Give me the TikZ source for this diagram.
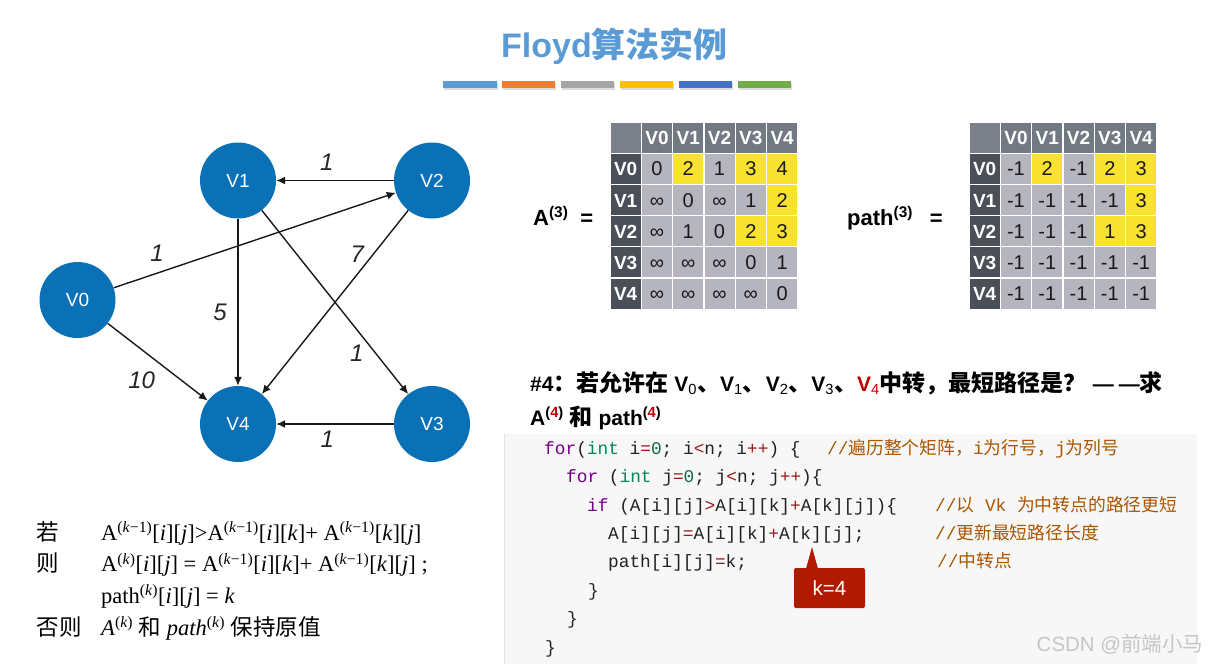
\documentclass[tikz,border=0pt]{standalone}
\usepackage{fontspec}
\setmainfont{Liberation Sans}
\newfontfamily\cjk{Noto Sans CJK SC}
\newfontfamily\codett{Liberation Mono}
\newfontfamily\timesrm{Liberation Serif}
\usetikzlibrary{arrows.meta, calc}
\definecolor{titleblue}{HTML}{5B9BD5}
\definecolor{barA}{HTML}{5B9BD5}
\definecolor{barB}{HTML}{ED7D31}
\definecolor{barC}{HTML}{A5A5A5}
\definecolor{barD}{HTML}{FFC000}
\definecolor{barE}{HTML}{4472C4}
\definecolor{barF}{HTML}{70AD47}
\definecolor{nodeblue}{HTML}{0B71B6}
\definecolor{headcorner}{HTML}{7C8089}
\definecolor{headtop}{HTML}{737983}
\definecolor{headleft}{HTML}{4B4F57}
\definecolor{cellgray}{HTML}{B5B5C0}
\definecolor{hotyellow}{HTML}{F8E12F}
\definecolor{hlred}{HTML}{C00000}
\definecolor{codebg}{HTML}{F7F7F7}
\definecolor{codeedge}{HTML}{E2E2E2}
\definecolor{codekw}{HTML}{770088}
\definecolor{codety}{HTML}{008855}
\definecolor{codenm}{HTML}{116644}
\definecolor{codeop}{HTML}{981A1A}
\definecolor{codecm}{HTML}{AA5500}
\definecolor{codeink}{HTML}{222222}
\definecolor{calloutred}{HTML}{B21A00}
\definecolor{wmgray}{HTML}{C6C6C6}

\newcommand\setfs[1]{\fontsize{#1}{#1}\selectfont}
\newcommand\zh[1]{{\cjk #1}}
\newcommand\qzh[1]{{\cjk\setfs{23}#1}}
\newcommand\kw[1]{\textcolor{codekw}{#1}}
\newcommand\ty[1]{\textcolor{codety}{#1}}
\newcommand\nm[1]{\textcolor{codenm}{#1}}
\newcommand\op[1]{\textcolor{codeop}{#1}}
\newcommand\cm[1]{\textcolor{codecm}{#1}}

\tikzset{
  gnode/.style={circle, fill=nodeblue, minimum size=76pt, inner sep=0, text=white, font=\setfs{19}},
  arc/.style={-{Latex[length=9pt, width=8pt]}, line width=1.4pt, black!90},
  wlabel/.style={inner sep=0, font=\setfs{24}\itshape, text=black!85},
  mcell/.style={draw=white, line width=1.2pt, minimum width=31.3pt, minimum height=31.2pt,
                inner sep=0, text height=14.3pt, text depth=0pt,
                fill=cellgray, text=black!90, font=\setfs{20}},
  colhead/.style={mcell, fill=headtop, text=white, font=\setfs{19}\bfseries},
  rowhead/.style={mcell, fill=headleft, text=white, font=\setfs{19}\bfseries},
  same/.style={},
  upd/.style={fill=hotyellow},
  codeline/.style={anchor=base west, inner sep=0, text=codeink, font=\codett\setfs{17.8}},
  formula/.style={anchor=base west, inner sep=0, text=black, font=\timesrm\setfs{22.5}},
  kbox/.style={fill=calloutred, text=white, minimum width=71pt, minimum height=40pt,
               rounded corners=2pt, inner sep=0, font=\setfs{20.5}},
}

\begin{document}
\begin{tikzpicture}[x=1pt, y=-1pt]
\useasboundingbox (0,0) rectangle (1223,664);

% ---- title and colour strip
\node[anchor=base, inner sep=0, font=\setfs{34}\bfseries, text=titleblue] (title)
      at (614.5,57.5) {Floyd\zh{算法实例}};
\foreach \c [count=\n from 0] in {barA,barB,barC,barD,barE,barF} {
  \fill[black!14] (444+\n*58.9,82.5) rectangle +(53.5,7);
  \fill[\c] (443+\n*58.9,81) rectangle +(53.5,7);
}

% ============================================== graph
\node[gnode] (v0) at (77.5,300) {V0};
\node[gnode] (v1) at (238,180.5) {V1};
\node[gnode] (v2) at (432,180.5) {V2};
\node[gnode] (v3) at (432,424) {V3};
\node[gnode] (v4) at (238,424) {V4};

\draw[arc] (v2) -- node[wlabel, pos=.57, yshift=18pt] (w21) {1} (v1);
\draw[arc] (v0) -- node[wlabel, pos=.175, xshift=-6pt, yshift=18pt] (w02) {1} (v2);
\draw[arc] (v1) -- node[wlabel, pos=.56, xshift=-18pt] (w14) {5} (v4);
\draw[arc] (v1) -- node[wlabel, pos=.73, xshift=-12pt, yshift=-9pt] (w13) {1} (v3);
\draw[arc] (v2) -- node[wlabel, pos=.28, xshift=-10pt, yshift=8pt] (w24) {7} (v4);
\draw[arc] (v0) -- node[wlabel, pos=.49, xshift=-15pt, yshift=-19pt] (w04) {10} (v4);
\draw[arc] (v3) -- node[wlabel, pos=.565, yshift=-15pt] (w34) {1} (v4);

% ============================================== A^(3)
\node[anchor=base west, inner sep=0, font=\setfs{22}\bfseries] (Alab) at (533,225)
  {A\textsuperscript{(3)}\hspace{12pt}=};
\node[mcell, fill=headcorner] (A-0-0) at (625.65,137.6) {};
\foreach \h [count=\n] in {V0,V1,V2,V3,V4} {
  \node[colhead] (A-0-\n) at (625.65+\n*31.3,137.6) {\h};
  \node[rowhead] (A-\n-0) at (625.65,137.6+\n*31.2) {\h};
}
\foreach \row [count=\r] in {{0/same,2/upd,1/same,3/upd,4/upd},
                             {∞/same,0/same,∞/same,1/same,2/upd},
                             {∞/same,1/same,0/same,2/upd,3/upd},
                             {∞/same,∞/same,∞/same,0/same,1/same},
                             {∞/same,∞/same,∞/same,∞/same,0/same}}
  \foreach \v/\s [count=\c] in \row
    \node[mcell,\s] (A-\r-\c) at (625.65+\c*31.3,137.6+\r*31.2) {\v};

% ============================================== path^(3)
\node[anchor=base west, inner sep=0, font=\setfs{22}\bfseries] (Plab) at (847,225)
  {path\textsuperscript{(3)}\hspace{17pt}=};
\node[mcell, fill=headcorner] (P-0-0) at (984.65,137.6) {};
\foreach \h [count=\n] in {V0,V1,V2,V3,V4} {
  \node[colhead] (P-0-\n) at (984.65+\n*31.3,137.6) {\h};
  \node[rowhead] (P-\n-0) at (984.65,137.6+\n*31.2) {\h};
}
\foreach \row [count=\r] in {{-1/same,2/upd,-1/same,2/upd,3/upd},
                             {-1/same,-1/same,-1/same,-1/same,3/upd},
                             {-1/same,-1/same,-1/same,1/upd,3/upd},
                             {-1/same,-1/same,-1/same,-1/same,-1/same},
                             {-1/same,-1/same,-1/same,-1/same,-1/same}}
  \foreach \v/\s [count=\c] in \row
    \node[mcell,\s] (P-\r-\c) at (984.65+\c*31.3,137.6+\r*31.2) {\v};

% ---- question
\node[anchor=base west, inner sep=0, font=\setfs{21}\bfseries] (ask1) at (530,391)
  {\#4\qzh{：若允许在} V\textsubscript{\mdseries 0}\qzh{、}%
   V\textsubscript{\mdseries 1}\qzh{、}V\textsubscript{\mdseries 2}\qzh{、}%
   V\textsubscript{\mdseries 3}\qzh{、}\textcolor{hlred}{V\textsubscript{\mdseries 4}}%
   \qzh{中转，最短路径是？}\hspace{6pt}—\kern5pt—\qzh{求}};
\node[anchor=base west, inner sep=0, font=\setfs{21}\bfseries] (ask2) at (530,425)
  {A\textsuperscript{(\textcolor{hlred}{4})} \qzh{和} path\textsuperscript{(\textcolor{hlred}{4})}};

% ============================================== code block
\fill[codebg] (504,434) rectangle (1197,664);
\draw[codeedge, line width=1pt] (504.5,434) -- (504.5,664);
\node[codeline] (c1) at (544,454.3) {\kw{for}(\ty{int} i\op{=}\nm{0}; i\op{<}n; i\op{++}) \{};
\node[codeline] (c1n) at (827,454.3) {\cm{//\zh{遍历整个矩阵，}i\zh{为行号，}j\zh{为列号}}};
\node[codeline] (c2) at (566,482.7) {\kw{for} (\ty{int} j\op{=}\nm{0}; j\op{<}n; j\op{++})\{};
\node[codeline] (c3) at (587,511.1) {\kw{if} (A[i][j]\op{>}A[i][k]\op{+}A[k][j])\{};
\node[codeline] (c3n) at (935,511.1) {\cm{//\zh{以} Vk \zh{为中转点的路径更短}}};
\node[codeline] (c4) at (608,539.5) {A[i][j]\op{=}A[i][k]\op{+}A[k][j];};
\node[codeline] (c4n) at (935,539.5) {\cm{//\zh{更新最短路径长度}}};
\node[codeline] (c5) at (608,567.9) {path[i][j]\op{=}k;};
\node[codeline] (c5n) at (937,567.9) {\cm{//\zh{中转点}}};
\node[codeline] (c6) at (588,596.3) {\}};
\node[codeline] (c7) at (567,624.7) {\}};
\node[codeline] (c8) at (545,653.1) {\}};

% ---- k=4 callout
\node[kbox] (kval) at (829.5,588) {k=4};
\coordinate (ktip) at (812,547);
\fill[calloutred] ($(kval.north -| ktip)+(-6,1)$) -- (ktip) -- ($(kval.north -| ktip)+(6,1)$) -- cycle;

% ============================================== update rule
\node[formula] (ifkey) at (36.7,540) {\zh{若}};
\node[formula] (ifexp) at (101,540)
  {A\textsuperscript{(\textit{k}−1)}[\textit{i}][\textit{j}]>A\textsuperscript{(\textit{k}−1)}[\textit{i}][\textit{k}]+
   A\textsuperscript{(\textit{k}−1)}[\textit{k}][\textit{j}]};
\node[formula] (thenkey) at (36.7,571.7) {\zh{则}};
\node[formula] (thenexp) at (101,571.7)
  {A\textsuperscript{(\textit{k})}[\textit{i}][\textit{j}] = A\textsuperscript{(\textit{k}−1)}[\textit{i}][\textit{k}]+
   A\textsuperscript{(\textit{k}−1)}[\textit{k}][\textit{j}] ;};
\node[formula] (pathexp) at (101,603)
  {path\textsuperscript{(\textit{k})}[\textit{i}][\textit{j}] = \textit{k}};
\node[formula] (elsekey) at (36.7,635) {\zh{否则}};
\node[formula] (elseexp) at (101,635)
  {\textit{A}\textsuperscript{(\textit{k})} \zh{和} \textit{path}\textsuperscript{(\textit{k})} \zh{保持原值}};

% ---- watermark
\node[anchor=base west, inner sep=0, font=\setfs{20.5}, text=wmgray] (wm) at (1036.5,651.5)
  {CSDN @\zh{前端小马}};

\end{tikzpicture}
\end{document}
